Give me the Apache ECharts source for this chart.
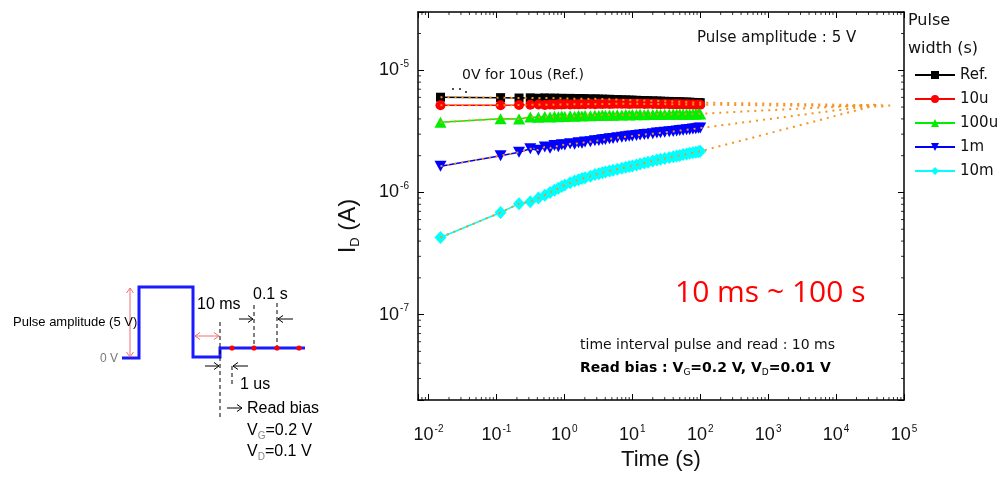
<!DOCTYPE html>
<html>
<head>
<meta charset="utf-8">
<script src="https://cdn.jsdelivr.net/npm/echarts@6/dist/echarts.min.js"></script>
<style>
  html, body { margin: 0; padding: 0; background: #fff; }
  #chart { width: 998px; height: 478px; }
</style>
</head>
<body>
<div id="chart"></div>
<script>
// Read times after each pulse (s)
const TIME_S = [
  0.015, 0.115, 0.215, 0.315, 0.415,
  0.515, 0.615, 0.715, 0.815, 0.915,
  1.015, 1.215, 1.415, 1.615, 1.815,
  2.015, 2.415, 2.815, 3.215, 3.615,
  4.015, 4.615, 5.215, 6.015, 7.015,
  8.015, 9.015, 10.015, 11.515, 13.015,
  15.015, 17.015, 20.015, 23.015, 26.015,
  30.015, 35.015, 40.015, 45.015, 50.015,
  56.015, 63.015, 70.015, 78.015, 86.015,
  94.015, 100.015
];

// Drain current (uA) for each pulse width
const ID_REF_UA = [
  6.02, 5.97, 5.93, 5.95, 5.91,
  5.94, 5.90, 5.92, 5.88, 5.90,
  5.87, 5.89, 5.85, 5.87, 5.84,
  5.86, 5.82, 5.84, 5.80, 5.81,
  5.78, 5.79, 5.75, 5.76, 5.73,
  5.72, 5.70, 5.69, 5.68, 5.66,
  5.65, 5.63, 5.62, 5.60, 5.59,
  5.57, 5.56, 5.54, 5.53, 5.52,
  5.50, 5.49, 5.48, 5.46, 5.45,
  5.44, 5.43
];
const ID_10U_UA = [
  5.18, 5.17, 5.19, 5.22, 5.24,
  5.21, 5.25, 5.23, 5.26, 5.24,
  5.27, 5.25, 5.28, 5.26, 5.29,
  5.27, 5.30, 5.28, 5.31, 5.29,
  5.32, 5.30, 5.31, 5.33, 5.31,
  5.32, 5.30, 5.33, 5.31, 5.32,
  5.30, 5.31, 5.29, 5.30, 5.28,
  5.29, 5.27, 5.28, 5.26, 5.27,
  5.25, 5.26, 5.24, 5.25, 5.23,
  5.24, 5.22
];
const ID_100U_UA = [
  3.75, 4.02, 4.00, 4.15, 4.12,
  4.18, 4.14, 4.20, 4.17, 4.22,
  4.19, 4.24, 4.21, 4.26, 4.23,
  4.27, 4.25, 4.29, 4.26, 4.30,
  4.28, 4.31, 4.29, 4.33, 4.30,
  4.34, 4.31, 4.35, 4.32, 4.36,
  4.33, 4.36, 4.34, 4.37, 4.35,
  4.37, 4.36, 4.38, 4.36, 4.38,
  4.37, 4.39, 4.37, 4.39, 4.38,
  4.40, 4.39
];
const ID_1M_UA = [
  1.64, 2.00, 2.13, 2.28, 2.22,
  2.36, 2.30, 2.42, 2.37, 2.46,
  2.44, 2.50, 2.48, 2.55, 2.53,
  2.59, 2.60, 2.65, 2.66, 2.70,
  2.71, 2.75, 2.77, 2.80, 2.83,
  2.86, 2.88, 2.90, 2.93, 2.95,
  2.98, 3.00, 3.03, 3.06, 3.08,
  3.11, 3.14, 3.16, 3.19, 3.21,
  3.23, 3.26, 3.28, 3.31, 3.33,
  3.35, 3.37
];
const ID_10M_UA = [
  0.428, 0.685, 0.81, 0.84, 0.90,
  0.95, 1.00, 1.04, 1.08, 1.12,
  1.15, 1.20, 1.24, 1.27, 1.30,
  1.32, 1.36, 1.40, 1.42, 1.45,
  1.47, 1.50, 1.52, 1.55, 1.58,
  1.61, 1.63, 1.65, 1.68, 1.71,
  1.74, 1.77, 1.81, 1.84, 1.87,
  1.90, 1.93, 1.96, 1.99, 2.01,
  2.04, 2.06, 2.09, 2.11, 2.13,
  2.15, 2.17
];

const SERIES_NAMES = ['Ref.', '10u', '100u', '1m', '10m'];
const SERIES_COLORS = ['#000000', '#ff0000', '#00ee00', '#0000ff', '#00ffff'];

// Extrapolated retention trend: end point of each orange guide (s, uA)
const TREND_END_T = [6.3e4, 5.0e4, 4.5e4, 4.0e4, 3.5e4];
const TREND_END_UA = [5.15, 5.05, 5.25, 5.2, 5.1];

// Axis ranges
const X_MIN = 0.007, X_MAX = 1e5;
const Y_MIN = 2e-8, Y_MAX = 3e-5;

const FONT = "'Liberation Sans', Arial, sans-serif";
const DJ = "'DejaVu Sans', sans-serif";
const NARROW = "'Liberation Sans Narrow', 'Arial Narrow', 'Liberation Sans', sans-serif";

const CURRENTS = [ID_REF_UA, ID_10U_UA, ID_100U_UA, ID_1M_UA, ID_10M_UA];
const SYMBOLS = ['rect', 'circle', 'triangle', 'path://M0,0 L10,0 L5,9 Z', 'diamond'];
const SYMBOL_SIZES = [[9, 9], 10, [12, 11], [12, 11], [12, 13]];

// Minor tick positions (2..9 per decade)
const minorX = [], minorY = [];
for (let e = -3; e <= 5; e++) {
  for (let m = 2; m <= 9; m++) {
    const v = m * Math.pow(10, e);
    if (v > X_MIN && v < X_MAX) minorX.push(v);
  }
}
for (let e = -8; e <= -5; e++) {
  for (let m = 2; m <= 9; m++) {
    const v = m * Math.pow(10, e);
    if (v > Y_MIN && v < Y_MAX) minorY.push(v);
  }
}

function powLabel(v) {
  const e = Math.log10(v);
  const r = Math.round(e);
  if (Math.abs(e - r) > 1e-6) return '';
  return '{b|10}{s|' + r + '}';
}
const powRich = {
  b: { fontSize: 18, fontFamily: FONT, color: '#111', lineHeight: 22 },
  s: { fontSize: 10, fontFamily: FONT, color: '#111', lineHeight: 12, verticalAlign: 'top', padding: [0, 0, 0, 1] }
};

const axisLine = { show: true, onZero: false, lineStyle: { color: '#000', width: 1.5 } };
const majorTick = { show: true, inside: true, length: 6, lineStyle: { color: '#000', width: 1 } };

const dataSeries = SERIES_NAMES.map((name, i) => ({
  name: name,
  type: 'line',
  data: TIME_S.map((t, k) => [t, CURRENTS[i][k] * 1e-6]),
  symbol: SYMBOLS[i],
  symbolSize: SYMBOL_SIZES[i],
  showAllSymbol: true,
  color: SERIES_COLORS[i],
  itemStyle: { color: SERIES_COLORS[i] },
  lineStyle: { color: SERIES_COLORS[i], width: 1.5 },
  z: 3 + i,
  silent: true
}));

const trendSeries = SERIES_NAMES.map((name, i) => ({
  name: name + ' trend',
  type: 'line',
  data: TIME_S.map((t, k) => [t, CURRENTS[i][k] * 1e-6])
    .concat([[TREND_END_T[i], TREND_END_UA[i] * 1e-6]]),
  symbol: 'none',
  lineStyle: { color: '#f7931e', width: 2, type: [2, 5] },
  z: 10,
  silent: true
}));

// Short inward minor ticks on all four frame sides
function minorTickSeries(data, size, offset) {
  return {
    type: 'scatter',
    data: data,
    symbol: 'rect',
    symbolSize: size,
    symbolOffset: offset,
    itemStyle: { color: '#000' },
    clip: false,
    silent: true,
    z: 20
  };
}
const minorSeries = [
  minorTickSeries(minorX.map(v => [v, Y_MIN]), [1, 3], [0, -1.5]),
  minorTickSeries(minorX.map(v => [v, Y_MAX]), [1, 3], [0, 1.5]),
  minorTickSeries(minorY.map(v => [X_MIN, v]), [3, 1], [1.5, 0]),
  minorTickSeries(minorY.map(v => [X_MAX, v]), [3, 1], [-1.5, 0])
];

// Pulse scheme drawn on the left
const BLUE = '#1a1aff';
const PINK = '#f07070';
function arrowHead(x, y, dir, color) {
  const s = 5, w = 3.5;
  let pts;
  if (dir === 'r') pts = [[x - s, y - w], [x, y], [x - s, y + w]];
  if (dir === 'l') pts = [[x + s, y - w], [x, y], [x + s, y + w]];
  if (dir === 'u') pts = [[x - w, y + s], [x, y], [x + w, y + s]];
  if (dir === 'd') pts = [[x - w, y - s], [x, y], [x + w, y - s]];
  return { type: 'polyline', shape: { points: pts }, style: { stroke: color, lineWidth: 1, fill: null }, silent: true };
}
function seg(x1, y1, x2, y2, color, dash) {
  return { type: 'line', shape: { x1, y1, x2, y2 },
    style: { stroke: color, lineWidth: 1, lineDash: dash || null }, silent: true };
}
function txt(x, y, text, opts) {
  return { type: 'text', x: x, y: y, silent: true,
    style: Object.assign({ text: text, fill: '#000', font: '14px ' + FONT, textAlign: 'left', textVerticalAlign: 'middle' }, opts || {}) };
}

const schemeGraphics = [
  { type: 'polyline', silent: true,
    shape: { points: [[122, 358], [139, 358], [139, 287], [193, 287], [193, 357], [220, 357], [220, 348], [305, 348]] },
    style: { stroke: BLUE, lineWidth: 3, fill: null } },
  seg(130, 288, 130, 357, PINK), arrowHead(130, 288, 'u', PINK), arrowHead(130, 357, 'd', PINK),
  seg(195, 336, 219, 336, PINK), arrowHead(195, 336, 'l', PINK), arrowHead(219, 336, 'r', PINK),
  seg(220, 322, 220, 417, '#000', [4, 3]),
  seg(232, 366, 232, 386, '#000', [4, 3]),
  seg(254, 305, 254, 347, '#000', [4, 3]),
  seg(277, 303, 277, 347, '#000', [4, 3]),
  seg(239, 319, 253, 319, '#000'), arrowHead(253, 319, 'r', '#000'),
  seg(293, 319, 278, 319, '#000'), arrowHead(278, 319, 'l', '#000'),
  seg(205, 366, 219, 366, '#000'), arrowHead(219, 366, 'r', '#000'),
  seg(248, 366, 233, 366, '#000'), arrowHead(233, 366, 'l', '#000'),
  seg(227, 408, 242, 408, '#000'), arrowHead(242, 408, 'r', '#000'),
  txt(13, 322, 'Pulse amplitude (5 V)', { font: '13px ' + NARROW }),
  txt(100, 359, '0 V', { font: '12px ' + NARROW, fill: '#777' }),
  txt(197, 305, '10 ms', { font: '16px ' + NARROW }),
  txt(253, 295, '0.1 s', { font: '16px ' + NARROW }),
  txt(240, 385, '1 us', { font: '16px ' + NARROW }),
  txt(247, 409, 'Read bias', { font: '16px ' + NARROW }),
  txt(247, 431, '{v|V}{g|G}{v|=0.2 V}', { rich: {
    v: { font: '16px ' + NARROW, fill: '#000', lineHeight: 20 },
    g: { font: '10px ' + NARROW, fill: '#888', lineHeight: 20, verticalAlign: 'bottom' } } }),
  txt(247, 452, '{v|V}{g|D}{v|=0.1 V}', { rich: {
    v: { font: '16px ' + NARROW, fill: '#000', lineHeight: 20 },
    g: { font: '10px ' + NARROW, fill: '#888', lineHeight: 20, verticalAlign: 'bottom' } } }),
  { type: 'circle', shape: { cx: 232, cy: 348, r: 2.6 }, style: { fill: '#ff0000' }, silent: true },
  { type: 'circle', shape: { cx: 254, cy: 348, r: 2.6 }, style: { fill: '#ff0000' }, silent: true },
  { type: 'circle', shape: { cx: 277, cy: 348, r: 2.6 }, style: { fill: '#ff0000' }, silent: true },
  { type: 'circle', shape: { cx: 299, cy: 348, r: 2.6 }, style: { fill: '#ff0000' }, silent: true }
];

// Annotations inside the plot
const plotGraphics = [
  txt(697, 38, 'Pulse amplitude : 5 V', { font: '15px ' + DJ, fill: '#111' }),
  txt(462, 75, '0V for 10us (Ref.)', { font: '14px ' + DJ, fill: '#111' }),
  { type: 'circle', shape: { cx: 453, cy: 89, r: 0.9 }, style: { fill: '#000' }, silent: true },
  { type: 'circle', shape: { cx: 460, cy: 89, r: 0.9 }, style: { fill: '#000' }, silent: true },
  { type: 'circle', shape: { cx: 466, cy: 92, r: 0.9 }, style: { fill: '#000' }, silent: true },
  txt(675, 293, '10 ms ~ 100 s', { font: '30px ' + "'Open Sans', sans-serif", fill: '#ff0000' }),
  txt(580, 345, 'time interval pulse and read : 10 ms', { font: '14px ' + DJ, fill: '#111' }),
  txt(580, 368, '{t|Read bias : V}{s|G}{t|=0.2 V, V}{s|D}{t|=0.01 V}', { rich: {
    t: { font: 'bold 14px ' + DJ, fill: '#000', lineHeight: 18 },
    s: { font: '9px ' + DJ, fill: '#000', lineHeight: 18, verticalAlign: 'bottom' } } }),
  { type: 'text', x: 348, y: 226, rotation: Math.PI / 2, silent: true,
    style: { text: '{m|I}{d|D}{m| (A)}', textAlign: 'center', textVerticalAlign: 'middle',
      rich: {
        m: { font: '24px ' + FONT, fill: '#111', lineHeight: 28 },
        d: { font: '13px ' + FONT, fill: '#111', lineHeight: 28, verticalAlign: 'bottom' }
      } } },
  txt(908, 21, 'Pulse', { font: '16px ' + DJ, fill: '#111' }),
  txt(908, 49, 'width (s)', { font: '16px ' + DJ, fill: '#111' })
];

const chart = echarts.init(document.getElementById('chart'), null, { renderer: 'canvas' });
chart.setOption({
  animation: false,
  backgroundColor: '#fff',
  grid: { left: 418, top: 12, width: 486, height: 388, containLabel: false },
  legend: {
    data: SERIES_NAMES,
    orient: 'vertical',
    left: 909,
    top: 62,
    itemWidth: 40,
    itemHeight: 10,
    itemGap: 8,
    selectedMode: false,
    textStyle: { fontSize: 15, fontFamily: DJ, color: '#111', lineHeight: 16 }
  },
  xAxis: [
    {
      type: 'log', min: X_MIN, max: X_MAX, logBase: 10, position: 'bottom',
      axisLine: axisLine, axisTick: majorTick,
      splitLine: { show: false },
      axisLabel: { formatter: powLabel, rich: powRich, margin: 24, showMinLabel: true, showMaxLabel: true },
      name: 'Time (s)', nameLocation: 'middle', nameGap: 46,
      nameTextStyle: { fontSize: 22, fontFamily: FONT, color: '#111' }
    },
    {
      type: 'log', min: X_MIN, max: X_MAX, logBase: 10, position: 'top',
      axisLine: axisLine, axisTick: majorTick,
      splitLine: { show: false }, axisLabel: { show: false }
    }
  ],
  yAxis: [
    {
      type: 'log', min: Y_MIN, max: Y_MAX, logBase: 10, position: 'left',
      axisLine: axisLine, axisTick: majorTick,
      splitLine: { show: false },
      axisLabel: { formatter: powLabel, rich: powRich, margin: 9 }
    },
    {
      type: 'log', min: Y_MIN, max: Y_MAX, logBase: 10, position: 'right',
      axisLine: axisLine, axisTick: majorTick,
      splitLine: { show: false }, axisLabel: { show: false }
    }
  ],
  series: dataSeries.concat(trendSeries).concat(minorSeries),
  graphic: { elements: schemeGraphics.concat(plotGraphics) }
});
</script>
</body>
</html>
